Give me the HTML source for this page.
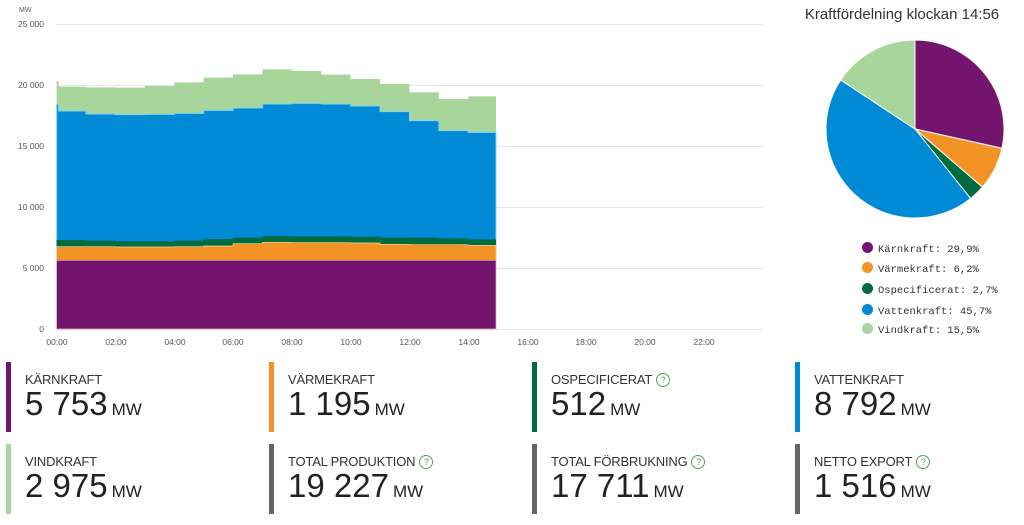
<!DOCTYPE html>
<html><head><meta charset="utf-8"><style>
body{margin:0;width:1024px;height:525px;background:#fff;font-family:"Liberation Sans",sans-serif;overflow:hidden;position:relative}
.card{position:absolute;height:70px;border-left:5px solid #666;padding-left:14px}
.card .l{font-size:13px;color:#333;margin-top:10px;letter-spacing:-0.2px}
.card .v{font-size:33px;color:#222;line-height:34px;margin-top:0px}
.card .v span{font-size:17px;margin-left:4px}
.q{display:inline-block;width:12px;height:12px;border:1px solid #5a9e5a;border-radius:50%;color:#5a9e5a;font-size:9px;line-height:12px;text-align:center;margin-left:4px;vertical-align:1px}
.lg{position:absolute;left:862px;font-family:"Liberation Mono",monospace;font-size:10.5px;color:#333}
.lg i{display:inline-block;width:11px;height:11px;border-radius:50%;vertical-align:-1px;margin-right:5px}
</style></head><body>
<svg width="1024" height="350" style="position:absolute;left:0;top:0" font-family="Liberation Sans" font-size="8.5" fill="#555">
<text x="19" y="12" font-size="7">MW</text>
<g stroke="#e6e6e6" stroke-width="1">
<line x1="57" x2="763" y1="24.5" y2="24.5"/><line x1="57" x2="763" y1="85.5" y2="85.5"/><line x1="57" x2="763" y1="146.5" y2="146.5"/><line x1="57" x2="763" y1="207.5" y2="207.5"/><line x1="57" x2="763" y1="268.5" y2="268.5"/><line x1="57" x2="763" y1="329.5" y2="329.5"/>
</g>
<g text-anchor="end"><text x="44" y="27">25 000</text><text x="44" y="88">20 000</text><text x="44" y="149">15 000</text><text x="44" y="210">10 000</text><text x="44" y="271">5 000</text><text x="44" y="332">0</text></g>
<g text-anchor="middle"><text x="57" y="345">00:00</text><text x="116" y="345">02:00</text><text x="175" y="345">04:00</text><text x="233" y="345">06:00</text><text x="292" y="345">08:00</text><text x="351" y="345">10:00</text><text x="410" y="345">12:00</text><text x="469" y="345">14:00</text><text x="528" y="345">16:00</text><text x="586" y="345">18:00</text><text x="645" y="345">20:00</text><text x="704" y="345">22:00</text></g>
<g transform="scale(0.3333333)">
<path fill="#a8d59b" d="M170,987V243H176V260H258.2V262H346.4V263H434.6V258H522.8V247H611V233H699.2V223H787.4V208H875.6V213H963.8V224H1052V237H1140.2V252H1228.4V277H1316.6V297H1404.8V289H1488V987Z"/>
<path fill="#008ad6" stroke="#7fd3f0" stroke-width="3" d="M170,987V313H176V333H258.2V342H346.4V344H434.6V343H522.8V340H611V331H699.2V324H787.4V312H875.6V310H963.8V312H1052V318H1140.2V335H1228.4V362H1316.6V392H1404.8V397H1488V987Z"/>
<path fill="#006b3f" d="M170,987V720H258.2V722H346.4V724H434.6V724H522.8V722H611V717H699.2V713H787.4V708H875.6V709H963.8V709H1052V710H1140.2V713H1228.4V713H1316.6V715H1404.8V718H1488V987Z"/>
<path fill="#f39325" stroke="#f7d9a0" stroke-width="2" d="M170,987V740H346.4V741H522.8V740H611V738H699.2V731H787.4V727H875.6V728H1052V729H1140.2V733H1228.4V734H1404.8V736H1488V987Z"/>
<path fill="#73146f" stroke="#f0b0c0" stroke-width="2" d="M170,987V781H1488V987Z"/>
</g>
<text x="902" y="19" text-anchor="middle" font-size="15" fill="#333">Kraftfördelning klockan 14:56</text>
<g transform="translate(915,129)" stroke="#fff" stroke-width="1">
<path fill="#73146f" d="M0,0V-89A89,89 0 0 1 86.9,19.3Z"/>
<path fill="#f39325" d="M0,0L86.9,19.3A89,89 0 0 1 67.4,58.1Z"/>
<path fill="#006b3f" d="M0,0L67.4,58.1A89,89 0 0 1 55.6,69.5Z"/>
<path fill="#008ad6" d="M0,0L55.6,69.5A89,89 0 0 1 -74.3,-49.0Z"/>
<path fill="#a8d59b" d="M0,0L-74.3,-49.0A89,89 0 0 1 0,-89Z"/>
</g>
</svg>
<div class="lg" style="top:242px"><i style="background:#73146f"></i>Kärnkraft: 29,9%</div>
<div class="lg" style="top:262px"><i style="background:#f39325"></i>Värmekraft: 6,2%</div>
<div class="lg" style="top:283px"><i style="background:#006b3f"></i>Ospecificerat: 2,7%</div>
<div class="lg" style="top:304px"><i style="background:#008ad6"></i>Vattenkraft: 45,7%</div>
<div class="lg" style="top:323px"><i style="background:#a8d59b"></i>Vindkraft: 15,5%</div>

<div class="card" style="left:6px;top:362px;border-color:#73146f"><div class="l">KÄRNKRAFT</div><div class="v">5 753<span>MW</span></div></div>
<div class="card" style="left:269px;top:362px;border-color:#f39325"><div class="l">VÄRMEKRAFT</div><div class="v">1 195<span>MW</span></div></div>
<div class="card" style="left:532px;top:362px;border-color:#006b3f"><div class="l">OSPECIFICERAT<span class="q">?</span></div><div class="v">512<span>MW</span></div></div>
<div class="card" style="left:795px;top:362px;border-color:#008ad6"><div class="l">VATTENKRAFT</div><div class="v">8 792<span>MW</span></div></div>
<div class="card" style="left:6px;top:444px;border-color:#a8d59b"><div class="l">VINDKRAFT</div><div class="v">2 975<span>MW</span></div></div>
<div class="card" style="left:269px;top:444px;border-color:#666"><div class="l">TOTAL PRODUKTION<span class="q">?</span></div><div class="v">19 227<span>MW</span></div></div>
<div class="card" style="left:532px;top:444px;border-color:#666"><div class="l">TOTAL FÖRBRUKNING<span class="q">?</span></div><div class="v">17 711<span>MW</span></div></div>
<div class="card" style="left:795px;top:444px;border-color:#666"><div class="l">NETTO EXPORT<span class="q">?</span></div><div class="v">1 516<span>MW</span></div></div>
</body></html>
